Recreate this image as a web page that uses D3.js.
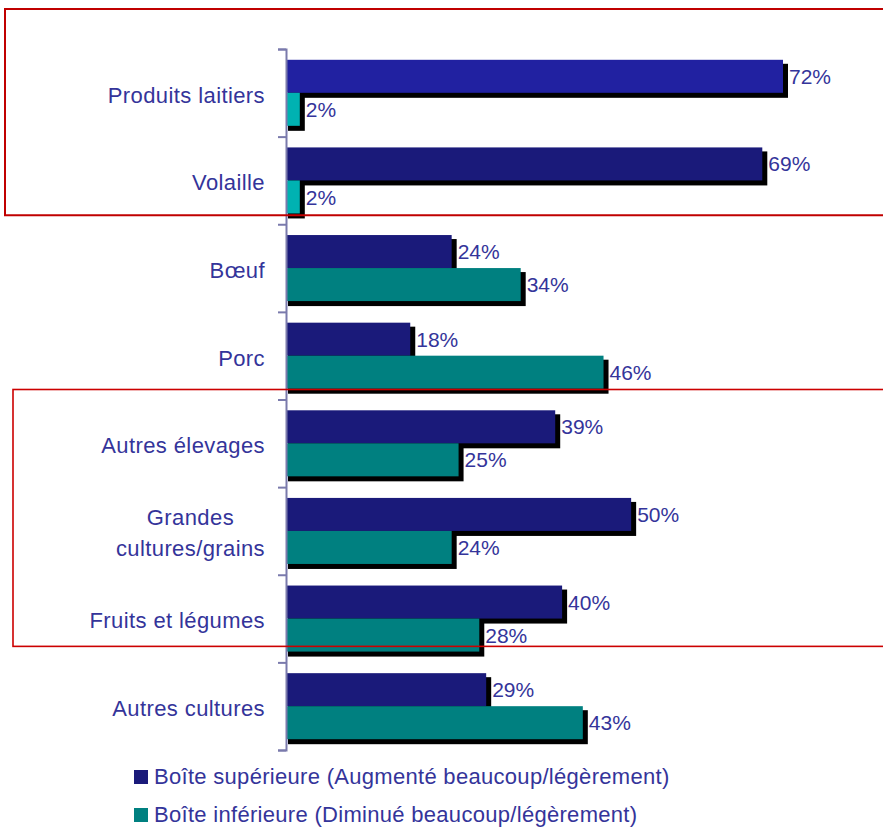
<!DOCTYPE html>
<html>
<head>
<meta charset="utf-8">
<script src="https://cdn.jsdelivr.net/npm/d3@7"></script>
<style>
  body { margin: 0; background: #fff; }
  svg { display: block; font-family: 'Liberation Sans', Arial, sans-serif; }
</style>
</head>
<body>
<div class="dataviz"></div>
<script>
// data
const categories = [
  'Produits laitiers',
  'Volaille',
  'Bœuf',
  'Porc',
  'Autres élevages',
  'Grandes\ncultures/grains',
  'Fruits et légumes',
  'Autres cultures'
]
const seriesNames = [
  'Boîte supérieure (Augmenté beaucoup/légèrement)',
  'Boîte inférieure (Diminué beaucoup/légèrement)'
]
const topBox = [72, 69, 24, 18, 39, 50, 40, 29]
const bottomBox = [2, 2, 34, 46, 25, 24, 28, 43]

const width = 883
const height = 827
const axisX = 286
const textColor = '#34349a'
const fontSize = 22

const svg = d3.select('.dataviz').append('svg')
  .attr('width', width)
  .attr('height', height)

// scales
const x = d3.scaleLinear().domain([0, 72]).range([axisX, 783])

const y = d3.scaleBand().domain(categories).range([49, 750])
const yIdx = d3.scaleLinear().domain([0, categories.length]).range([49, 750])

const inner = d3.scaleBand()
  .domain([0, 1])
  .range([0, y.bandwidth()])
  .paddingInner(0)
  .paddingOuter(0.327)

// colours (first rows were highlighted in the original)
const barColor = (s, i) => {
  if (s === 0) return i === 0 ? '#2121a1' : '#1a1a7a'
  return i < 2 ? '#00b2b2' : '#008080'
}

const rows = categories.map((c, i) => ({ cat: c, i, vals: [topBox[i], bottomBox[i]] }))

const groups = svg.selectAll('g.row')
  .data(rows)
  .enter()
  .append('g')
  .attr('class', 'row')
  .attr('transform', d => `translate(0, ${y(d.cat)})`)

// shadows first
groups.selectAll('rect.shadow')
  .data(d => d.vals.map((v, s) => ({ v, s, i: d.i })))
  .enter()
  .append('rect')
  .attr('class', 'shadow')
  .attr('x', axisX + 2)
  .attr('y', d => inner(d.s) + 4)
  .attr('width', d => x(d.v) - axisX + 3)
  .attr('height', inner.bandwidth() + 1)
  .attr('fill', '#000')

groups.selectAll('rect.bar')
  .data(d => d.vals.map((v, s) => ({ v, s, i: d.i })))
  .enter()
  .append('rect')
  .attr('class', 'bar')
  .attr('x', axisX)
  .attr('y', d => inner(d.s))
  .attr('width', d => x(d.v) - axisX)
  .attr('height', inner.bandwidth())
  .attr('fill', d => barColor(d.s, d.i))

groups.selectAll('text.val')
  .data(d => d.vals.map((v, s) => ({ v, s })))
  .enter()
  .append('text')
  .attr('class', 'val')
  .attr('x', d => x(d.v) + 6)
  .attr('y', d => inner(d.s) + inner.bandwidth() / 2)
  .attr('dy', '0.36em')
  .attr('font-size', 21)
  .attr('fill', textColor)
  .text(d => d.v + '%')

// axis
const axis = svg.append('g')
  .attr('transform', `translate(${axisX}, 0)`)
  .call(d3.axisLeft(yIdx).ticks(categories.length).tickSize(8).tickFormat(''))
axis.selectAll('path, line').attr('stroke', '#7a7aac').attr('stroke-width', 2)

// category labels
const labels = svg.append('g')
  .selectAll('text')
  .data(categories)
  .enter()
  .append('text')
  .attr('font-size', fontSize)
  .attr('letter-spacing', 0.4)
  .attr('fill', textColor)
  .attr('text-anchor', 'middle')

labels.each(function (c) {
  const lines = c.split('\n')
  const t = d3.select(this)
  const cy = y(c) + y.bandwidth() / 2 + 2
  lines.forEach((line, k) => {
    t.append('tspan')
      .attr('y', cy + (k - (lines.length - 1) / 2) * 31)
      .attr('dy', '0.36em')
      .text(line)
  })
  let w = 0
  t.selectAll('tspan').each(function () { w = Math.max(w, this.getComputedTextLength()) })
  t.selectAll('tspan').attr('x', 265 - w / 2)
})

// red highlight boxes
svg.append('rect')
  .attr('x', 5).attr('y', y(categories[0]) - 40)
  .attr('width', 900).attr('height', y(categories[1]) + y.bandwidth() - 9 - (y(categories[0]) - 40))
  .attr('fill', 'none').attr('stroke', '#c00000').attr('stroke-width', 2)

svg.append('rect')
  .attr('x', 13).attr('y', y(categories[4]) - 10)
  .attr('width', 900).attr('height', y(categories[6]) + y.bandwidth() - 16 - (y(categories[4]) - 10))
  .attr('fill', 'none').attr('stroke', '#cc0000').attr('stroke-width', 1.6)

// legend
const legend = svg.append('g')
  .selectAll('g')
  .data(seriesNames)
  .enter()
  .append('g')
  .attr('transform', (d, i) => `translate(134, ${770 + i * 38})`)

legend.append('rect')
  .attr('width', 14).attr('height', 14)
  .attr('fill', (d, i) => barColor(i, 5))

legend.append('text')
  .attr('x', 20)
  .attr('y', 7)
  .attr('dy', '0.34em')
  .attr('font-size', fontSize)
  .attr('letter-spacing', 0.3)
  .attr('fill', textColor)
  .text(d => d)
</script>
</body>
</html>
